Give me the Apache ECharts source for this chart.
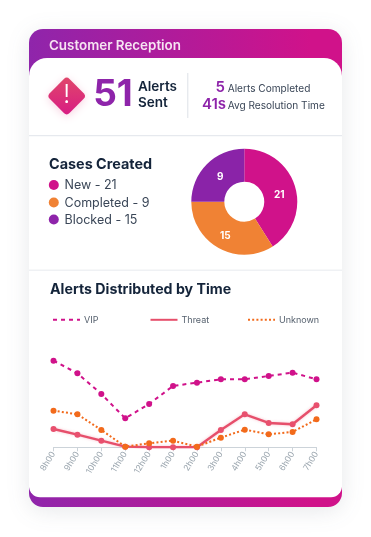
<!DOCTYPE html>
<html><head><meta charset="utf-8">
<script src="https://cdn.jsdelivr.net/npm/echarts@6/dist/echarts.min.js"></script>
<style>html,body{margin:0;padding:0;background:#fff}#c{width:371px;height:537px}</style></head>
<body><div id="c"></div>
<script>
var hours = ['8h00','9h00','10h00','11h00','12h00','1h00','2h00','3h00','4h00','5h00','6h00','7h00'];
var vip = [26,22.2,16,8.7,13,18.4,19.4,20.4,20.4,21.4,22.4,20.4];
var threat = [5.5,3.8,2,0.2,0,0,0,5.2,9.9,7.3,6.9,12.6];
var unknown = [11,9.9,5.2,0.2,1.2,2,0.2,2.9,5.3,3.9,4.6,8.4];
var sliceShares = [41,34,25];
var sliceLabels = ['21','15','9'];
var sliceNames = ['New','Blocked','Other'];
var caseLegend = ['New - 21','Completed - 9','Blocked - 15'];
var caseColors = ['#d0128a','#f08234','#8e24aa'];
var F = 'Inter, "Noto Sans", sans-serif';
var dark = '#14243a';
function grad(){return new echarts.graphic.LinearGradient(0,0,1,0,[{offset:0,color:'#8f25ab'},{offset:0.9,color:'#d0128a'},{offset:1,color:'#d0128a'}]);}
function t(x,y,s,size,weight,color,align){
  var st={x:x,y:y,text:s,font:weight+' '+size+'px '+F,fill:color,textAlign:align||'left',textVerticalAlign:'middle'};
  return {type:'text',style:st,z:5};
}
var g=[
 {type:'rect',shape:{x:29,y:29,width:313,height:478,r:14},style:{fill:grad(),shadowBlur:22,shadowColor:'rgba(60,70,90,0.12)',shadowOffsetY:4},z:1},
 {type:'rect',shape:{x:29,y:58,width:313,height:439.3,r:[18,18,11,11]},style:{fill:'#fff'},z:2},
 {type:'rect',shape:{x:29,y:135,width:313,height:1.3},style:{fill:'#e6e9ee'},z:3},
 {type:'rect',shape:{x:29,y:269.5,width:313,height:1.5},style:{fill:'#eff1f4'},z:3},
 {type:'rect',shape:{x:187.3,y:73,width:1,height:45},style:{fill:'#dde1e7'},z:3},
 t(49,45.5,'Customer Reception',13.4,600,'#f6e4f2'),
 {type:'rect',shape:{x:-14,y:-14,width:28,height:28,r:4},x:66.7,y:96,rotation:Math.PI/4,
  style:{fill:new echarts.graphic.LinearGradient(0,1,1,0,[{offset:0,color:'#d81b84'},{offset:1,color:'#e0486a'}]),shadowBlur:8,shadowColor:'rgba(220,40,110,0.2)',shadowOffsetY:2},z:4},
 t(66.7,95.5,'!',26,300,'#fff','center'),
 t(113,94.5,'51',37,700,'#8e24aa','center'),
 t(138,87.3,'Alerts',13.5,600,dark),
 t(138,103,'Sent',13.5,600,dark),
 t(225,87,'5',15,600,'#8e24aa','right'),
 t(227.7,89.3,'Alerts Completed',10.1,400,'#3a4657'),
 t(226,104,'41s',15,600,'#8e24aa','right'),
 t(227.7,106,'Avg Resolution Time',10.1,400,'#3a4657'),
 t(49,164.5,'Cases Created',14.4,700,dark),
 t(50,289.3,'Alerts Distributed by Time',14.2,700,dark)
];
var ly=[185,202.5,219.5];
caseLegend.forEach(function(s,i){
  g.push({type:'circle',shape:{cx:53.8,cy:ly[i],r:5},style:{fill:caseColors[i]},z:4});
  g.push(t(64.5,ly[i]+0.5,s,12.5,400,'#3a4657'));
});
var chart=echarts.init(document.getElementById('c'),null,{renderer:'canvas'});
function leg(name,x){return {data:[name],left:x,top:315,itemWidth:27,itemHeight:12,itemGap:0,padding:0,
  textStyle:{fontFamily:F,fontSize:9,color:'#56616e',padding:[0,0,0,-1]},itemStyle:{opacity:0}};}
var labelShift=[[-3,4],[0,0],[4,3]];
chart.setOption({
 animation:false,
 graphic:{elements:g},
 legend:[leg('VIP',52),leg('Threat',149.5),leg('Unknown',247)],
 grid:{left:53.5,right:54.5,top:347.3,height:100},
 xAxis:{type:'category',data:hours,boundaryGap:false,z:6,
   axisLine:{lineStyle:{color:'#ccd3d9',width:1}},
   axisTick:{show:true,alignWithLabel:true,length:4,lineStyle:{color:'#ccd3d9'}},
   axisLabel:{interval:0,rotate:58,fontFamily:F,fontSize:8.5,color:'#9aa5ae',margin:5}},
 yAxis:{type:'value',min:0,max:30,show:false,splitLine:{show:false}},
 series:[
  {type:'line',name:'VIP',data:vip,symbol:'circle',symbolSize:6,itemStyle:{color:'#d0128a'},lineStyle:{color:'#d0128a',width:2,type:[4,4]},z:7},
  {type:'line',name:'Threat',data:threat,symbol:'circle',symbolSize:6,itemStyle:{color:'#e8506e'},lineStyle:{color:'#e64f6b',width:2.4,shadowBlur:3,shadowColor:'rgba(232,80,110,0.35)'},z:7},
  {type:'line',name:'Unknown',data:unknown,symbol:'circle',symbolSize:6,itemStyle:{color:'#f26a1b'},lineStyle:{color:'#f26a1b',width:2,type:[2,2.2]},z:8},
  {type:'pie',center:[244.3,201.7],radius:[20,53],startAngle:90,clockwise:true,avoidLabelOverlap:false,z:7,
   silent:true,
   data:sliceShares.map(function(v,i){return {value:v,name:sliceNames[i],
     itemStyle:{color:['#d0128a','#f08234','#8a23a8'][i]},
     label:{formatter:sliceLabels[i],offset:labelShift[i]}};}),
   label:{position:'inside',color:'#fff',fontFamily:F,fontWeight:700,fontSize:10},labelLine:{show:false}}
 ]
});
</script></body></html>
